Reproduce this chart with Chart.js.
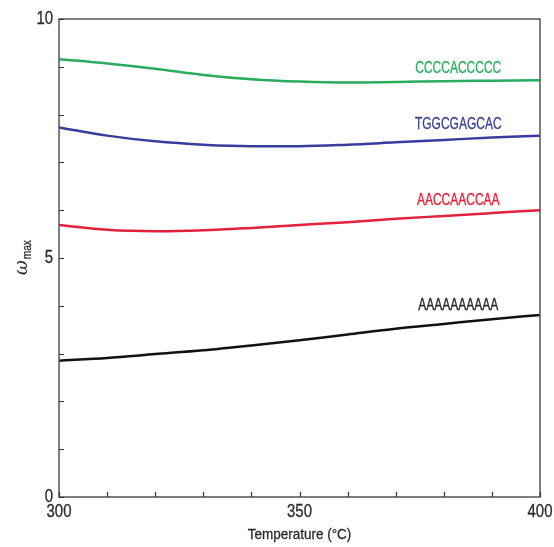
<!DOCTYPE html>
<html>
<head>
<meta charset="utf-8">
<script src="https://cdn.jsdelivr.net/npm/chart.js@4"></script>
<style>
  html, body { margin: 0; padding: 0; background: #fff; }
</style>
</head>
<body>
<canvas id="omegaChart" width="554" height="547"></canvas>
<script>
// temperature grid (°C)
const temps = [300, 310, 320, 330, 340, 350, 360, 370, 380, 390, 400];

// omega_max per sequence
const seqNames = ['CCCCACCCCC', 'TGGCGAGCAC', 'AACCAACCAA', 'AAAAAAAAAA'];
const omegaC = [9.16, 9.07, 8.96, 8.83, 8.74, 8.69, 8.67, 8.68, 8.70, 8.71, 8.72];
const omegaT = [7.73, 7.56, 7.44, 7.37, 7.34, 7.34, 7.37, 7.42, 7.47, 7.52, 7.56];
const omegaAC = [5.69, 5.59, 5.56, 5.58, 5.63, 5.69, 5.75, 5.82, 5.88, 5.94, 6.00];
const omegaA = [2.85, 2.91, 2.99, 3.07, 3.17, 3.28, 3.40, 3.52, 3.62, 3.72, 3.81];
const seqSeries = [omegaC, omegaT, omegaAC, omegaA];
const seqColors = ['#2aab5e', '#363d9c', '#e4213a', '#111111'];
const nameColors = ['#2aab5e', '#3b4196', '#e4213a', '#222222'];

// where each sequence name sits (data units)
const nameTemp = [383, 383, 383, 383];
const nameOmega = [8.96, 7.79, 6.2, 4.0];

const xLabelled = [300, 350, 400];
const yLabelled = [0, 5, 10];

const FONT = "'Liberation Sans', Arial, sans-serif";

const datasets = seqNames.map((name, i) => ({
    label: name,
    data: temps.map((t, j) => ({ x: t, y: seqSeries[i][j] })),
    borderColor: seqColors[i],
    borderWidth: 2.5,
    pointRadius: 0,
    cubicInterpolationMode: 'monotone',
    fill: false
}));

// narrow type: squeezed horizontally, with a hairline stroke for weight
function narrowText(ctx, text, x, y, sx, align) {
    ctx.save();
    ctx.translate(x, y);
    ctx.scale(sx, 1);
    ctx.textAlign = align;
    ctx.strokeStyle = ctx.fillStyle;
    ctx.lineWidth = 0.3;
    ctx.fillText(text, 0, 0);
    ctx.strokeText(text, 0, 0);
    ctx.restore();
}

// box frame with inward ticks, tick labels, sequence names and axis titles
const frameAndLabels = {
    id: 'frameAndLabels',
    afterDatasetsDraw(chart) {
        const { ctx, scales: { x, y } } = chart;
        ctx.save();
        ctx.font = '16px ' + FONT;
        ctx.textBaseline = 'middle';
        seqNames.forEach((name, i) => {
            ctx.fillStyle = nameColors[i];
            narrowText(ctx, name, x.getPixelForValue(nameTemp[i]), y.getPixelForValue(nameOmega[i]), 0.75, 'center');
        });
        ctx.restore();
    },
    afterDraw(chart) {
        const { ctx, chartArea: a, scales: { x, y } } = chart;
        ctx.save();
        ctx.strokeStyle = '#555';
        ctx.lineWidth = 1.5;
        ctx.strokeRect(a.left, a.top, a.right - a.left, a.bottom - a.top);
        ctx.lineWidth = 1.2;
        ctx.strokeStyle = '#333';
        ctx.beginPath();
        x.ticks.forEach(t => {
            const px = Math.round(x.getPixelForValue(t.value)) + 0.5;
            ctx.moveTo(px, a.bottom);
            ctx.lineTo(px, a.bottom - 5);
        });
        y.ticks.forEach(t => {
            const py = Math.round(y.getPixelForValue(t.value)) + 0.5;
            ctx.moveTo(a.left, py);
            ctx.lineTo(a.left + 5, py);
        });
        ctx.stroke();

        // tick labels
        ctx.fillStyle = '#2a2a2a';
        ctx.font = '18px ' + FONT;
        ctx.textBaseline = 'middle';
        x.ticks.filter(t => xLabelled.includes(t.value)).forEach(t => {
            narrowText(ctx, String(t.value), x.getPixelForValue(t.value), a.bottom + 15, 0.83, 'center');
        });
        y.ticks.filter(t => yLabelled.includes(t.value)).forEach(t => {
            narrowText(ctx, String(t.value), a.left - 6, y.getPixelForValue(t.value), 0.83, 'right');
        });

        // x title
        ctx.font = '15px ' + FONT;
        narrowText(ctx, 'Temperature (°C)', (a.left + a.right) / 2, 535, 0.9, 'center');

        // omega_max, rotated
        ctx.translate(22, 258);
        ctx.rotate(-Math.PI / 2);
        ctx.textBaseline = 'alphabetic';
        ctx.textAlign = 'left';
        ctx.font = "italic 18px 'DejaVu Serif', serif";
        const w = ctx.measureText('ω').width;
        ctx.font = '12px ' + FONT;
        const m = ctx.measureText('max').width * 0.85;
        const start = -(w + m) / 2;
        ctx.font = "italic 18px 'DejaVu Serif', serif";
        ctx.fillText('ω', start, 5);
        ctx.font = '12px ' + FONT;
        narrowText(ctx, 'max', start + w + 1, 9, 0.85, 'left');
        ctx.restore();
    }
};

function initializeChart() {
    const ctx = document.getElementById('omegaChart').getContext('2d');
    new Chart(ctx, {
        type: 'line',
        data: { datasets: datasets },
        options: {
            responsive: false,
            animation: false,
            layout: { padding: { top: 19, right: 14, left: 0, bottom: 0 } },
            plugins: {
                legend: { display: false },
                tooltip: { enabled: false }
            },
            scales: {
                x: {
                    type: 'linear',
                    min: 300,
                    max: 400,
                    grid: { display: false, drawTicks: false },
                    border: { display: false },
                    ticks: { stepSize: 10, autoSkip: false, display: false },
                    afterFit: s => { s.height = 50; }
                },
                y: {
                    min: 0,
                    max: 10,
                    grid: { display: false, drawTicks: false },
                    border: { display: false },
                    ticks: { stepSize: 1, autoSkip: false, display: false },
                    afterFit: s => { s.width = 59; }
                }
            }
        },
        plugins: [frameAndLabels]
    });
}

if (document.readyState === 'loading') {
    document.addEventListener('DOMContentLoaded', initializeChart);
} else {
    initializeChart();
}
</script>
</body>
</html>
